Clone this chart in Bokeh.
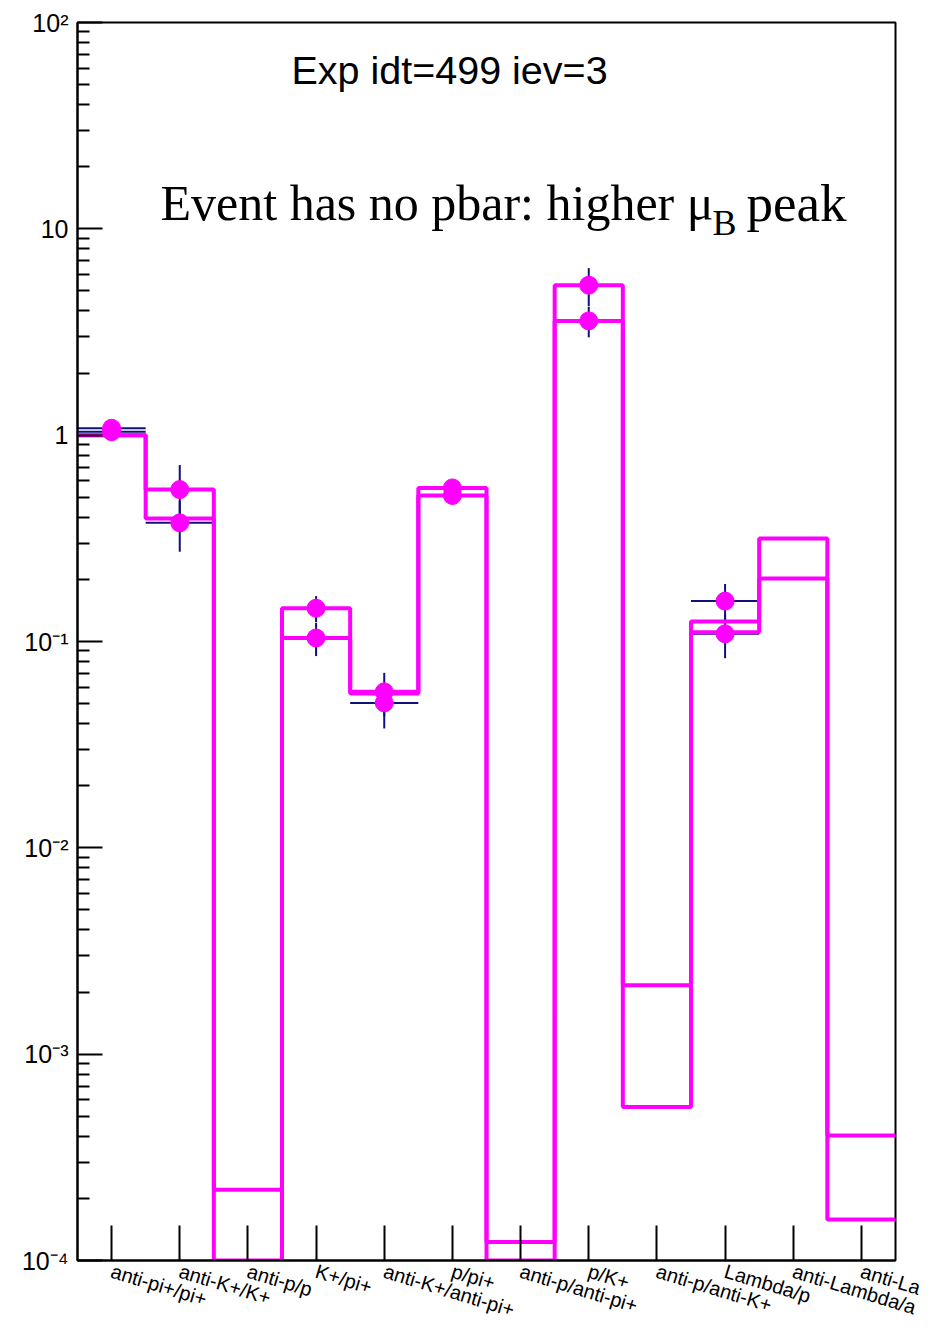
import math
from bokeh.plotting import figure
from bokeh.models import FixedTicker, Label, CustomJSTickFormatter
from bokeh.embed import file_html
from bokeh.resources import INLINE

# ---------------- data ----------------
# the last two category names are cut off at the right edge of the reference picture
categories = ["anti-pi+/pi+", "anti-K+/K+", "anti-p/p", "K+/pi+", "anti-K+/anti-pi+",
              "p/pi+", "anti-p/anti-pi+", "p/K+", "anti-p/anti-K+", "Lambda/p",
              "anti-Lambda/a", "anti-La"]

hist_upper = [1.00, 0.545, 2.2e-4, 0.145, 0.057, 0.555, 1.23e-4, 5.33, 2.16e-3, 0.125, 0.316, 4.04e-4]
hist_lower = [1.00, 0.395, 1.0e-4, 0.104, 0.056, 0.510, 1.0e-4, 3.58, 5.55e-4, 0.111, 0.202, 1.58e-4]

nan = float("nan")
pts_upper = [1.08, 0.545, nan, 0.145, 0.057, 0.555, nan, 5.33, nan, 0.157, nan, nan]
err_upper = [0.04, 0.171, nan, 0.021, 0.0135, 0.03, nan, 1.12, nan, 0.033, nan, nan]
pts_lower = [1.04, 0.376, nan, 0.104, 0.0504, 0.510, nan, 3.58, nan, 0.109, nan, nan]
err_lower = [0.04, 0.104, nan, 0.019, 0.0125, 0.03, nan, 0.60, nan, 0.026, nan, nan]

ytick_vals = [1e-4, 1e-3, 1e-2, 1e-1, 1, 10, 100]
ytick_labels = ["10\u207b\u2074", "10\u207b\u00b3", "10\u207b\u00b2", "10\u207b\u00b9", "1", "10", "10\u00b2"]

title_text = "Exp idt=499 iev=3"
note_main = "Event has no pbar: higher \u03bc"
note_sub = "B"
note_tail = "peak"

# ---------------- figure ----------------
W, H = 935, 1335
nb = len(categories)
p = figure(width=W, height=H, x_range=(0, nb), y_range=(1e-4, 1e2), y_axis_type="log",
           output_backend="svg", toolbar_location=None,
           min_border_left=77, min_border_right=40, min_border_top=22, min_border_bottom=75)
p.grid.visible = False
p.background_fill_color = "white"
p.border_fill_color = "white"
p.outline_line_color = "black"
p.outline_line_width = 2

centers = [i + 0.5 for i in range(nb)]
minor = [m * 10.0 ** e for e in range(-4, 2) for m in range(2, 10)]

p.yaxis.ticker = FixedTicker(ticks=ytick_vals, minor_ticks=minor)
p.yaxis.formatter = CustomJSTickFormatter(args=dict(vals=ytick_vals, labs=ytick_labels), code="""
for (let i = 0; i < vals.length; i++) {
  if (Math.abs(Math.log10(tick) - Math.log10(vals[i])) < 1e-6) return labs[i];
}
return '';
""")
p.yaxis.major_tick_in = 25
p.yaxis.major_tick_out = 0
p.yaxis.minor_tick_in = 12
p.yaxis.minor_tick_out = 0
p.yaxis.axis_line_width = 2
p.yaxis.major_tick_line_width = 2
p.yaxis.minor_tick_line_width = 2
p.yaxis.major_label_standoff = 9
p.yaxis.major_label_text_font = "Liberation Sans"
p.yaxis.major_label_text_font_size = "25px"
p.yaxis.major_label_text_color = "black"

p.xaxis.ticker = FixedTicker(ticks=centers, minor_ticks=[])
p.xaxis.formatter = CustomJSTickFormatter(args=dict(labs=categories), code="""
const i = Math.floor(tick);
return (i >= 0 && i < labs.length) ? labs[i] : '';
""")
p.xaxis.major_tick_in = 35
p.xaxis.major_tick_out = 0
p.xaxis.minor_tick_line_color = None
p.xaxis.axis_line_width = 2
p.xaxis.major_tick_line_width = 2
p.xaxis.major_label_orientation = -17 * math.pi / 180
p.xaxis.major_label_standoff = 10
p.xaxis.major_label_text_font = "Liberation Sans"
p.xaxis.major_label_text_font_size = "20px"
p.xaxis.major_label_text_color = "black"

# ---------------- error bars ----------------
navy = "#10107a"
for pts, err in ((pts_upper, err_upper), (pts_lower, err_lower)):
    xs = [c for c, v in zip(centers, pts) if not math.isnan(v)]
    vs = [v for v in pts if not math.isnan(v)]
    es = [e for e in err if not math.isnan(e)]
    p.segment(x0=xs, x1=xs, y0=[v - e for v, e in zip(vs, es)], y1=[v + e for v, e in zip(vs, es)],
              line_color=navy, line_width=2)
    p.segment(x0=[x - 0.5 for x in xs], x1=[x + 0.5 for x in xs], y0=vs, y1=vs,
              line_color=navy, line_width=2)

# ---------------- histograms ----------------
edges = list(range(nb + 1))
for h in (hist_upper, hist_lower):
    p.step(x=edges, y=h + [h[-1]], mode="after", line_color="#ff00ff", line_width=4)

# ---------------- markers ----------------
for pts in (pts_upper, pts_lower):
    xs = [c for c, v in zip(centers, pts) if not math.isnan(v)]
    vs = [v for v in pts if not math.isnan(v)]
    p.scatter(x=xs, y=vs, size=18, fill_color="#ff00ff", line_color="#ff00ff")

# ---------------- title / note (screen units are relative to the frame) ----------------
FL, FB = 77, 1260  # frame left / bottom on the canvas
p.add_layout(Label(x=449 - FL, y=FB - 69, x_units="screen", y_units="screen", text=title_text,
                   text_align="center", text_baseline="alphabetic", text_font="Liberation Sans",
                   text_font_size="39.5px", text_color="black"))
p.add_layout(Label(x=160 - FL, y=FB - 202, x_units="screen", y_units="screen", text=note_main,
                   text_align="left", text_baseline="alphabetic", text_font="Liberation Serif",
                   text_font_size="50px", text_color="black"))
p.add_layout(Label(x=712 - FL, y=FB - 222, x_units="screen", y_units="screen", text=note_sub,
                   text_align="left", text_baseline="alphabetic", text_font="Liberation Serif",
                   text_font_size="36px", text_color="black"))
p.add_layout(Label(x=746 - FL, y=FB - 202, x_units="screen", y_units="screen", text=note_tail,
                   text_align="left", text_baseline="alphabetic", text_font="Liberation Serif",
                   text_font_size="53px", text_color="black"))

open("out.html", "w").write(file_html(p, INLINE))
